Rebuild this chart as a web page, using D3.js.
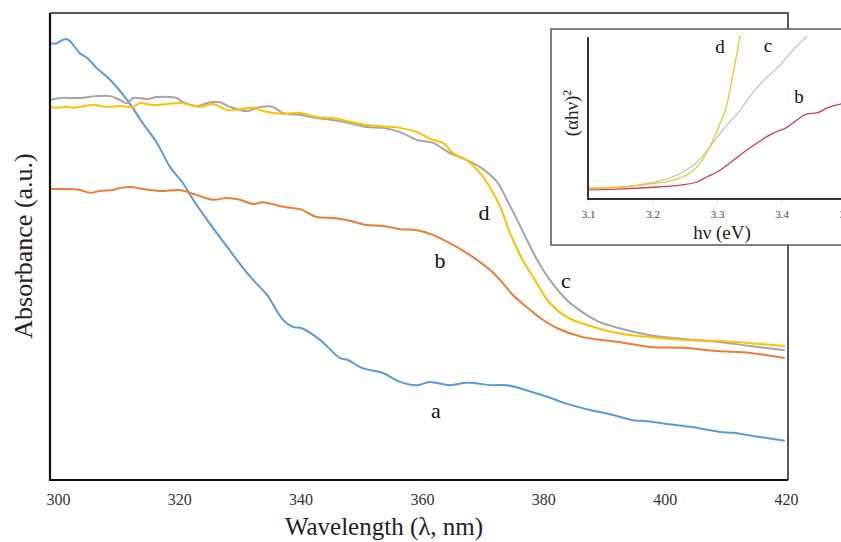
<!DOCTYPE html>
<html>
<head>
<meta charset="utf-8">
<script src="https://cdn.jsdelivr.net/npm/d3@7"></script>
<style>
  body { margin: 0; background: #fff; }
  svg { display: block; }
  svg text { font-family: "Liberation Serif", "Times New Roman", serif; }
</style>
</head>
<body>
<svg id="viz" width="841" height="542"></svg>
<script>
// UV-vis absorbance spectra (a.u.), wavelength in nm
var seriesA = [[298.7,0.936],[299.5,0.934],[301.5,0.944],[303.6,0.914],[304.8,0.904],[306.4,0.882],[308.6,0.857],[311.4,0.814],[314.0,0.764],[316.3,0.722],[318.5,0.670],[320.6,0.636],[322.3,0.600],[324.6,0.557],[327.9,0.499],[331.2,0.443],[333.3,0.413],[334.5,0.396],[337.1,0.343],[338.7,0.328],[340.2,0.325],[343.2,0.300],[346.5,0.261],[347.8,0.257],[350.1,0.240],[353.6,0.229],[356.4,0.210],[359.2,0.203],[361.3,0.210],[364.6,0.203],[367.4,0.208],[371.7,0.203],[374.0,0.203],[378.3,0.188],[381.1,0.176],[383.9,0.163],[387.7,0.150],[391.0,0.141],[394.8,0.128],[397.1,0.126],[400.4,0.120],[404.7,0.113],[409.1,0.103],[411.3,0.101],[415.7,0.092],[419.8,0.084]];
var seriesB = [[298.7,0.623],[301.5,0.623],[303.6,0.621],[305.3,0.615],[306.9,0.619],[309.1,0.621],[310.2,0.625],[312.4,0.627],[314.0,0.623],[316.8,0.619],[320.1,0.621],[321.8,0.615],[323.4,0.608],[325.6,0.600],[327.9,0.604],[330.0,0.600],[332.2,0.591],[333.8,0.595],[337.1,0.585],[339.9,0.580],[342.7,0.563],[345.3,0.561],[348.1,0.555],[350.9,0.546],[353.6,0.544],[356.4,0.537],[359.2,0.535],[361.8,0.525],[364.6,0.507],[367.4,0.486],[369.1,0.471],[371.2,0.450],[372.9,0.428],[375.0,0.396],[377.3,0.370],[379.5,0.347],[382.3,0.325],[386.5,0.306],[392.1,0.296],[397.6,0.285],[403.0,0.283],[408.6,0.276],[414.1,0.272],[419.8,0.261]];
var seriesC = [[298.7,0.814],[300.3,0.818],[303.6,0.818],[306.4,0.822],[308.6,0.822],[310.2,0.814],[311.4,0.807],[312.4,0.818],[314.7,0.816],[316.3,0.820],[318.5,0.820],[319.6,0.818],[320.6,0.809],[322.9,0.801],[325.1,0.809],[326.7,0.809],[328.4,0.799],[331.2,0.790],[333.3,0.799],[335.4,0.799],[337.1,0.786],[339.9,0.782],[342.7,0.775],[345.3,0.771],[348.1,0.764],[350.9,0.756],[353.6,0.754],[356.4,0.745],[359.2,0.728],[361.8,0.722],[364.6,0.700],[367.4,0.685],[369.6,0.670],[372.4,0.638],[374.0,0.600],[375.7,0.557],[377.3,0.514],[379.0,0.471],[381.1,0.428],[383.9,0.385],[387.2,0.353],[389.3,0.338],[392.6,0.325],[397.6,0.310],[403.0,0.302],[408.6,0.296],[414.1,0.287],[419.8,0.278]];
var seriesD = [[298.7,0.799],[299.9,0.797],[301.5,0.799],[302.5,0.797],[303.6,0.799],[305.8,0.803],[308.1,0.799],[310.2,0.801],[312.4,0.799],[313.5,0.807],[315.7,0.803],[318.0,0.805],[320.6,0.807],[323.4,0.799],[325.6,0.805],[327.9,0.792],[330.0,0.794],[332.2,0.797],[333.8,0.790],[337.1,0.784],[339.9,0.786],[342.7,0.777],[345.3,0.775],[348.1,0.767],[350.9,0.760],[353.6,0.757],[356.4,0.754],[359.2,0.745],[361.8,0.728],[363.5,0.722],[365.1,0.700],[367.4,0.685],[369.6,0.657],[371.2,0.627],[372.9,0.585],[374.5,0.529],[376.6,0.471],[378.3,0.435],[381.1,0.379],[383.9,0.349],[387.2,0.332],[392.1,0.315],[397.6,0.306],[403.0,0.300],[408.6,0.298],[414.1,0.293],[419.8,0.287]];
var xTicks = [300, 320, 340, 360, 380, 400, 420];

// Tauc plot inset, (alpha h nu)^2 vs photon energy (eV)
var taucB = [[3.100,0.056],[3.154,0.062],[3.207,0.074],[3.243,0.086],[3.269,0.105],[3.284,0.136],[3.300,0.167],[3.320,0.222],[3.340,0.284],[3.362,0.346],[3.387,0.407],[3.409,0.444],[3.424,0.488],[3.440,0.525],[3.455,0.531],[3.471,0.562],[3.491,0.586],[3.500,0.593]];
var taucC = [[3.100,0.062],[3.154,0.074],[3.196,0.099],[3.227,0.130],[3.247,0.167],[3.269,0.228],[3.289,0.321],[3.309,0.426],[3.336,0.549],[3.356,0.660],[3.378,0.753],[3.398,0.827],[3.418,0.920],[3.440,1.006]];
var taucD = [[3.100,0.068],[3.154,0.074],[3.196,0.093],[3.232,0.117],[3.253,0.148],[3.269,0.198],[3.284,0.284],[3.294,0.364],[3.305,0.469],[3.316,0.593],[3.323,0.735],[3.331,0.901],[3.336,1.012]];
var insetTicks = [3.1, 3.2, 3.3, 3.4, 3.5];

var serif = "'Liberation Serif', 'Times New Roman', serif";
var svg = d3.select("#viz");

// ---- main chart
var x = d3.scaleLinear().domain([298.7, 420]).range([50, 786]);
var y = d3.scaleLinear().domain([0, 1]).range([480, 13]);

var line = d3.line().x(d => x(d[0])).y(d => y(d[1])).curve(d3.curveCatmullRom);

var main = [
  {data: seriesA, color: "#5b9bd5"},
  {data: seriesB, color: "#ed7d31"},
  {data: seriesC, color: "#a5a5a5"},
  {data: seriesD, color: "#ffc000"}
];

main.forEach(s => {
  svg.append("path")
    .attr("d", line(s.data))
    .attr("fill", "none")
    .attr("stroke", s.color)
    .attr("stroke-width", 2)
    .attr("stroke-linejoin", "round");
});

// frame
svg.append("path").attr("d", "M50,13H788V480").attr("fill", "none").attr("stroke", "#222").attr("stroke-width", 1.5);
svg.append("path").attr("d", "M50,13V480H788").attr("fill", "none").attr("stroke", "#111").attr("stroke-width", 2.2);

var xAxis = svg.append("g")
  .attr("transform", "translate(0,480)")
  .call(d3.axisBottom(x).tickValues(xTicks).tickSize(0).tickPadding(14));
xAxis.select(".domain").remove();
xAxis.selectAll("text")
  .attr("font-family", serif)
  .attr("font-size", 16)
  .attr("fill", "#333");

svg.append("text")
  .attr("x", 384).attr("y", 535)
  .attr("text-anchor", "middle")
  .attr("font-family", serif)
  .attr("font-size", 25)
  .attr("fill", "#222")
  .text("Wavelength (λ, nm)");

svg.append("text")
  .attr("transform", "translate(32,246) rotate(-90)")
  .attr("text-anchor", "middle")
  .attr("font-family", serif)
  .attr("font-size", 26)
  .attr("fill", "#222")
  .text("Absorbance (a.u.)");

var mainLabels = [["a", 436, 418], ["b", 440, 268], ["c", 566, 288], ["d", 484, 220]];
svg.selectAll("text.lab").data(mainLabels).join("text")
  .attr("class", "lab")
  .attr("x", d => d[1]).attr("y", d => d[2])
  .attr("text-anchor", "middle")
  .attr("font-family", serif)
  .attr("font-size", 22)
  .attr("fill", "#111")
  .text(d => d[0]);

// ---- inset
var inset = svg.append("g");
inset.append("rect")
  .attr("x", 551).attr("y", 29).attr("width", 310).attr("height", 216)
  .attr("fill", "#fff").attr("stroke", "#555").attr("stroke-width", 1.5);

var ix = d3.scaleLinear().domain([3.1, 3.5]).range([588, 846]);
var iy = d3.scaleLinear().domain([0, 1]).range([199, 37]);
var iline = d3.line().x(d => ix(d[0])).y(d => iy(d[1])).curve(d3.curveMonotoneX);

[{data: taucB, color: "#c8404f"}, {data: taucC, color: "#c4c4c4"}, {data: taucD, color: "#f5c22a"}].forEach(s => {
  inset.append("path")
    .attr("d", iline(s.data))
    .attr("fill", "none")
    .attr("stroke", s.color)
    .attr("stroke-width", 1.3);
});

inset.append("path").attr("d", "M588,37V199H846").attr("fill", "none").attr("stroke", "#333").attr("stroke-width", 2);

var ixAxis = inset.append("g")
  .attr("transform", "translate(0,201)")
  .call(d3.axisBottom(ix).tickValues(insetTicks).tickSize(3).tickPadding(6).tickFormat(d3.format(".1f")));
ixAxis.select(".domain").remove();
ixAxis.selectAll("line").attr("stroke", "#ccc").attr("stroke-dasharray", "1,1");
ixAxis.selectAll("text")
  .attr("font-family", serif)
  .attr("font-size", 11)
  .attr("fill", "#444");

inset.append("text")
  .attr("x", 722).attr("y", 239)
  .attr("text-anchor", "middle")
  .attr("font-family", serif)
  .attr("font-size", 19)
  .attr("fill", "#222")
  .text("hν (eV)");

inset.append("text")
  .attr("transform", "translate(578,113) rotate(-90)")
  .attr("text-anchor", "middle")
  .attr("font-family", serif)
  .attr("font-size", 19)
  .attr("fill", "#222")
  .html("(αhν)<tspan dy='-7' font-size='12'>2</tspan>");

var insetLabels = [["d", 720, 53], ["c", 768, 52], ["b", 799, 103]];
inset.selectAll("text.ilab").data(insetLabels).join("text")
  .attr("class", "ilab")
  .attr("x", d => d[1]).attr("y", d => d[2])
  .attr("text-anchor", "middle")
  .attr("font-family", serif)
  .attr("font-size", 19)
  .attr("fill", "#111")
  .text(d => d[0]);
</script>
</body>
</html>
